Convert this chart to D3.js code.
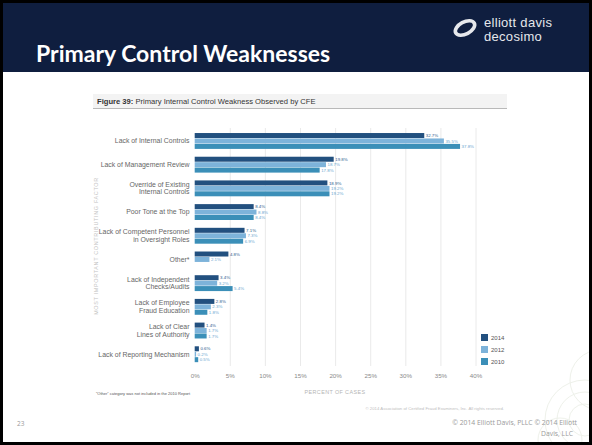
<!DOCTYPE html>
<html>
<head>
<meta charset="utf-8">
<script src="https://cdn.jsdelivr.net/npm/d3@7"></script>
<style>
  html, body { margin: 0; padding: 0; background: #fff; }
  svg { display: block; }
</style>
</head>
<body>
<svg id="slide" width="592" height="445"></svg>
<script>
// Primary internal control weakness observed, percent of cases
const categories = [
  "Lack of Internal Controls",
  "Lack of Management Review",
  "Override of Existing|Internal Controls",
  "Poor Tone at the Top",
  "Lack of Competent Personnel|in Oversight Roles",
  "Other*",
  "Lack of Independent|Checks/Audits",
  "Lack of Employee|Fraud Education",
  "Lack of Clear|Lines of Authority",
  "Lack of Reporting Mechanism"
];
const years = ["2014", "2012", "2010"];
const values2014 = [32.7, 19.8, 18.9, 8.4, 7.1, 4.8, 3.4, 2.8, 1.4, 0.6];
const values2012 = [35.5, 18.7, 19.2, 8.8, 7.3, 2.1, 3.2, 2.3, 1.7, 0.2];
const values2010 = [37.8, 17.8, 19.2, 8.4, 6.9, null, 5.4, 1.8, 1.7, 0.5];
const xTicks = [0, 5, 10, 15, 20, 25, 30, 35, 40];
const yearColors = ["#22507f", "#7db3da", "#3b8fb8"];

const seriesByYear = { "2014": values2014, "2012": values2012, "2010": values2010 };

const svg = d3.select("#slide");
const W = 592, H = 445;
const sans = "'Liberation Sans', Arial, sans-serif";

// ---- slide frame and header ----
svg.append("rect").attr("width", W).attr("height", H).attr("fill", "#fff");
svg.append("rect").attr("x", 0).attr("y", 0).attr("width", W).attr("height", 72).attr("fill", "#0f1e3f");

svg.append("text")
  .attr("x", 36).attr("y", 62)
  .attr("font-family", "Lato, 'Open Sans', sans-serif")
  .attr("font-weight", 700).attr("font-size", 23)
  .attr("fill", "#fff")
  .text("Primary Control Weaknesses");

// logo: tilted ring plus wordmark
const logo = svg.append("g");
logo.append("ellipse")
  .attr("cx", 0).attr("cy", 0).attr("rx", 10.5).attr("ry", 6)
  .attr("transform", "translate(465,28) rotate(-28)")
  .attr("fill", "none").attr("stroke", "#e6e8ec").attr("stroke-width", 3.6);
logo.append("text").attr("x", 484).attr("y", 26.5)
  .attr("font-family", sans).attr("font-size", 13).attr("letter-spacing", 0.3)
  .attr("fill", "#e6e8ec").text("elliott davis");
logo.append("text").attr("x", 484).attr("y", 41.2)
  .attr("font-family", sans).attr("font-size", 13).attr("letter-spacing", 0.3)
  .attr("fill", "#e6e8ec").text("decosimo");

// faint decorative rings, lower right corner
const deco = svg.append("g").attr("fill", "none").attr("stroke", "#eef1ea").attr("stroke-width", 1);
[[585, 420, 40], [585, 420, 28], [585, 420, 16], [560, 440, 22], [600, 380, 30]].forEach(c => {
  deco.append("circle").attr("cx", c[0]).attr("cy", c[1]).attr("r", c[2]);
});

// ---- figure heading ----
svg.append("rect").attr("x", 93).attr("y", 94).attr("width", 414).attr("height", 14).attr("fill", "#f3f3f3");
svg.append("line").attr("x1", 93).attr("x2", 507).attr("y1", 108.5).attr("y2", 108.5)
  .attr("stroke", "#b9b9b9").attr("stroke-width", 1);
const figTitle = svg.append("text").attr("x", 97).attr("y", 104)
  .attr("font-family", sans).attr("font-size", 7.6).attr("fill", "#333");
figTitle.append("tspan").attr("font-weight", 700).text("Figure 39:");
figTitle.append("tspan").text(" Primary Internal Control Weakness Observed by CFE");

// ---- chart ----
const x = d3.scaleLinear().domain([0, 40]).range([194.7, 475.5]);
const y = d3.scaleBand().domain(categories).range([129, 366.2]).paddingInner(0.33).paddingOuter(0.17);
const yInner = d3.scaleBand().domain(years).range([0, y.bandwidth()]).paddingInner(0.08);
const color = d3.scaleOrdinal().domain(years).range(yearColors);

const chart = svg.append("g");

// vertical gridlines
const grid = chart.append("g")
  .attr("transform", `translate(0,${366})`)
  .call(d3.axisBottom(x).tickValues(xTicks.filter(t => t > 0)).tickSize(-238).tickFormat(""));
grid.select(".domain").remove();
grid.selectAll("line").attr("stroke", "#e4e4e4").attr("stroke-width", 0.8);

// x tick labels
const xAxis = chart.append("g")
  .attr("transform", `translate(0,${371})`)
  .call(d3.axisBottom(x).tickValues(xTicks).tickSize(0).tickFormat(d => d + "%"));
xAxis.select(".domain").remove();
xAxis.selectAll("text")
  .attr("font-family", sans).attr("font-size", 6.2)
  .attr("fill", "#8a8a8a");

// category labels (multi-line)
const yAxis = chart.append("g")
  .attr("transform", `translate(${189.5},0)`)
  .call(d3.axisLeft(y).tickSize(0).tickPadding(0).tickFormat(""));
yAxis.select(".domain").remove();
yAxis.selectAll(".tick").each(function(d) {
  const lines = d.split("|");
  const t = d3.select(this).append("text")
    .attr("text-anchor", "end")
    .attr("font-family", sans).attr("font-size", 6.9)
    .attr("fill", "#666");
  const lh = 7.6;
  lines.forEach((ln, i) => {
    t.append("tspan").attr("x", 0)
      .attr("y", (i - (lines.length - 1) / 2) * lh + 2.3)
      .text(ln);
  });
});

// bars
const groups = chart.selectAll("g.cat")
  .data(categories.map((c, i) => ({ c, i })))
  .join("g").attr("class", "cat")
  .attr("transform", d => `translate(0,${y(d.c)})`);

const barData = d => years
  .map(yr => ({ yr, v: seriesByYear[yr][d.i] }))
  .filter(b => b.v !== null);

groups.selectAll("rect")
  .data(barData)
  .join("rect")
  .attr("x", x(0))
  .attr("y", b => yInner(b.yr))
  .attr("width", b => x(b.v) - x(0))
  .attr("height", yInner.bandwidth())
  .attr("fill", b => color(b.yr));

groups.selectAll("text.val")
  .data(barData)
  .join("text").attr("class", "val")
  .attr("x", b => x(b.v) + 1.5)
  .attr("y", b => yInner(b.yr) + yInner.bandwidth() / 2 + 1.6)
  .attr("font-family", sans).attr("font-size", 4.4)
  .attr("fill", b => b.yr === "2014" ? "#2a5a8c" : "#6aa6cf")
  .text(b => d3.format(".1f")(b.v) + "%");

// y axis title
svg.append("text")
  .attr("transform", "translate(98,246) rotate(-90)")
  .attr("text-anchor", "middle")
  .attr("font-family", sans).attr("font-size", 5.4)
  .attr("letter-spacing", 0.7)
  .attr("fill", "#c4c4c4")
  .text("MOST IMPORTANT CONTRIBUTING FACTOR");

// x axis title
svg.append("text")
  .attr("x", 335).attr("y", 394)
  .attr("text-anchor", "middle")
  .attr("font-family", sans).attr("font-size", 5.4)
  .attr("letter-spacing", 0.4)
  .attr("fill", "#b5b5b5")
  .text("PERCENT OF CASES");

// legend
const legend = svg.append("g").attr("transform", "translate(481,334)");
years.forEach((yr, i) => {
  const g = legend.append("g").attr("transform", `translate(0,${i * 12})`);
  g.append("rect").attr("width", 7).attr("height", 7).attr("fill", color(yr));
  g.append("text").attr("x", 10).attr("y", 6)
    .attr("font-family", sans).attr("font-size", 6)
    .attr("fill", "#555").text(yr);
});

// notes
svg.append("text")
  .attr("x", 96).attr("y", 395)
  .attr("font-family", sans).attr("font-size", 4)
  .attr("fill", "#555")
  .text("\u201COther\u201D category was not included in the 2010 Report");
svg.append("text")
  .attr("x", 504).attr("y", 410)
  .attr("text-anchor", "end")
  .attr("font-family", sans).attr("font-size", 4.3)
  .attr("fill", "#c0c0c0")
  .text("\u00A9 2014 Association of Certified Fraud Examiners, Inc. All rights reserved.");

// slide footer
svg.append("text").attr("x", 17).attr("y", 426)
  .attr("font-family", "'Open Sans', sans-serif").attr("font-size", 6.5)
  .attr("fill", "#9a9a9a").text("23");
svg.append("text").attr("x", 577).attr("y", 425)
  .attr("text-anchor", "end")
  .attr("font-family", "'Open Sans', sans-serif").attr("font-size", 6.8)
  .attr("fill", "#9a9a9a").text("\u00A9 2014 Elliott Davis, PLLC \u00A9 2014 Elliott");
svg.append("text").attr("x", 573).attr("y", 436)
  .attr("text-anchor", "end")
  .attr("font-family", "'Open Sans', sans-serif").attr("font-size", 6.8)
  .attr("fill", "#9a9a9a").text("Davis, LLC");

// black slide border
svg.append("rect").attr("x", 1.5).attr("y", 1.5).attr("width", W - 3).attr("height", H - 3)
  .attr("fill", "none").attr("stroke", "#000").attr("stroke-width", 3);
</script>
</body>
</html>
